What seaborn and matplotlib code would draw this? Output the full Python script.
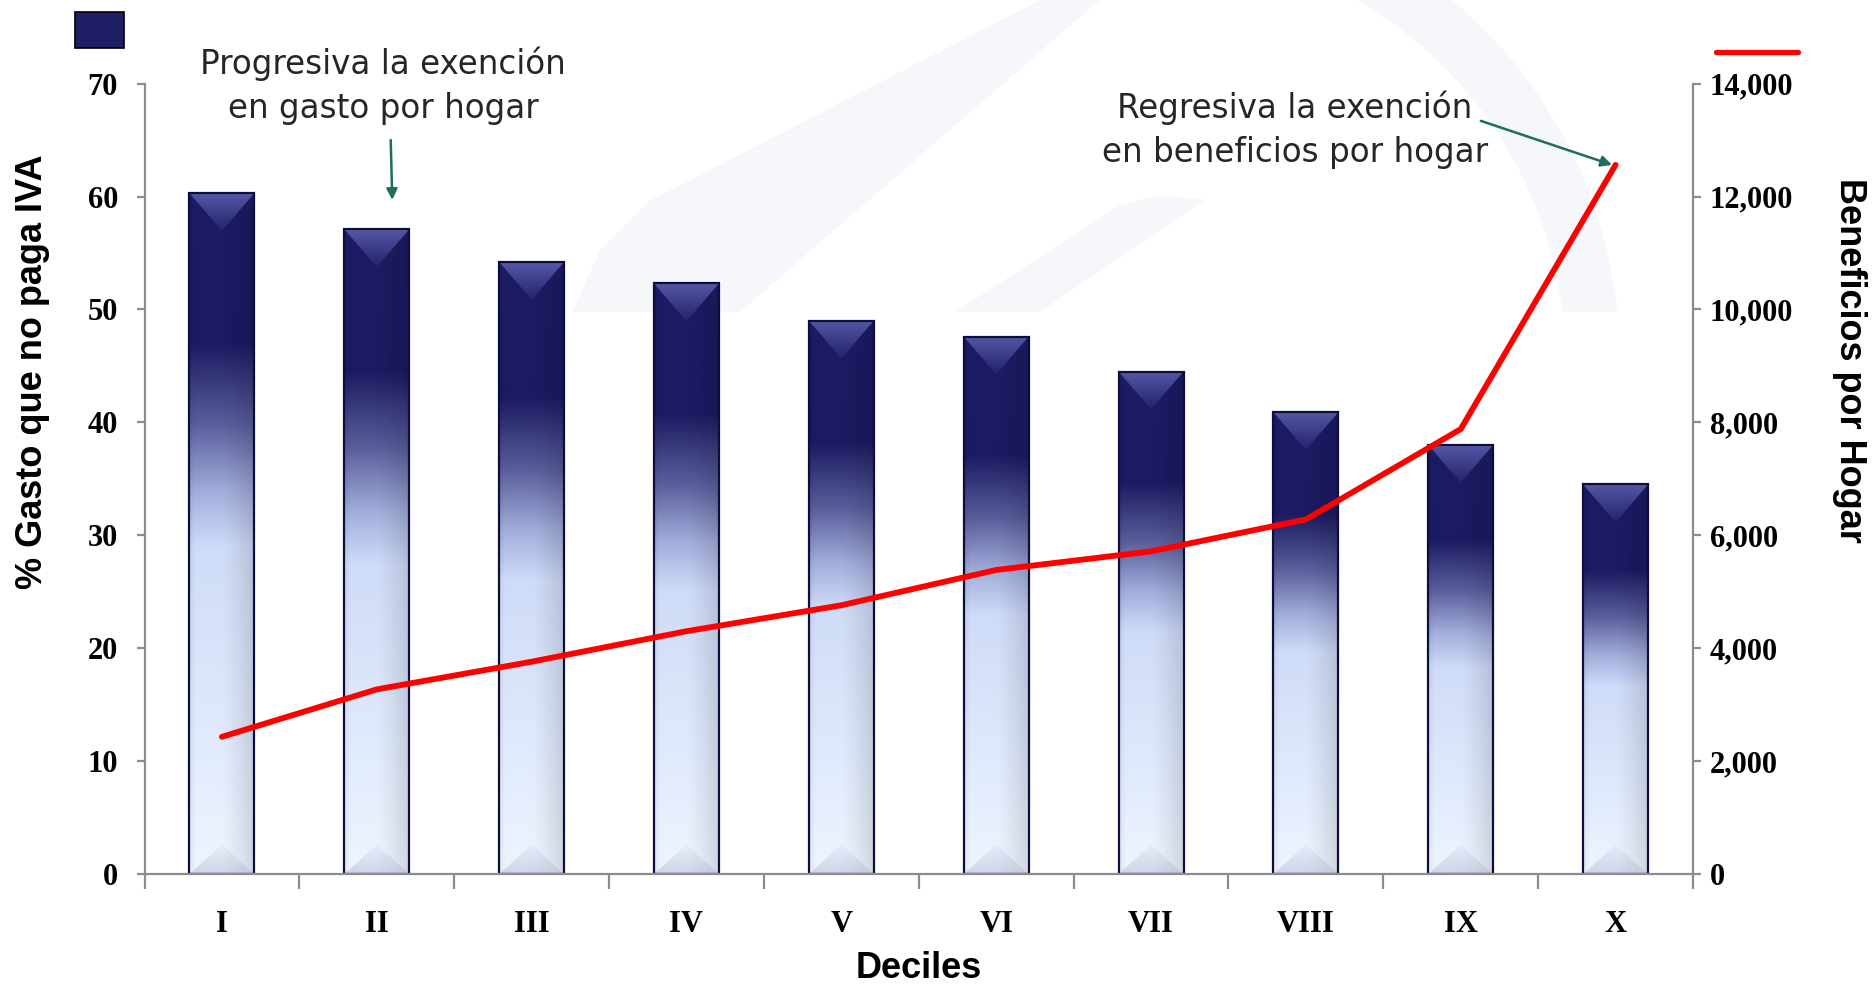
import numpy as np
import pandas as pd
import matplotlib
matplotlib.use("Agg")
import matplotlib.pyplot as plt
import seaborn as sns
from matplotlib.patches import Patch, Polygon, Wedge, Rectangle
from matplotlib.lines import Line2D
from matplotlib.colors import to_rgb

# ---------------- data ----------------
deciles = ["I", "II", "III", "IV", "V", "VI", "VII", "VIII", "IX", "X"]
gasto_pct = [60.3, 57.1, 54.2, 52.3, 49.0, 47.6, 44.5, 40.9, 38.0, 34.5]
beneficios = [2430, 3270, 3760, 4300, 4760, 5385, 5715, 6280, 7880, 12560]
left_ticks = [0, 10, 20, 30, 40, 50, 60, 70]
right_ticks = [0, 2000, 4000, 6000, 8000, 10000, 12000, 14000]
xlabel = "Deciles"
ylabel_left = "% Gasto que no paga IVA"
ylabel_right = "Beneficios por Hogar"
note_left = "Progresiva la exención\nen gasto por hogar"
note_right = "Regresiva la exención\nen beneficios por hogar"

sns.set_theme(style="white")
plt.rcParams['font.family'] = ['DejaVu Sans']

W_PX, H_PX = 1872, 986
fig = plt.figure(figsize=(W_PX / 100, H_PX / 100), dpi=100)
fig.patch.set_facecolor("white")

# ---------- faint background watermark (decorative) ----------
def fy(y):  # top-based pixel -> display pixel
    return H_PX - y

wm_col = "#eef2f6"
clip_rect = Rectangle((0, fy(312)), W_PX, 312, transform=None)
wm_shapes = [
    Wedge((1150, fy(360)), 470, -5, 120, width=55, transform=None),
    Polygon([(572, fy(312)), (600, fy(250)), (650, fy(200)), (700, fy(175)),
             (1040, fy(0)), (1100, fy(0)), (740, fy(312))], closed=True, transform=None),
    Polygon([(955, fy(312)), (1120, fy(205)), (1160, fy(195)), (1205, fy(200)),
             (1040, fy(312))], closed=True, transform=None),
]
for shp in wm_shapes:
    shp.set_facecolor(wm_col)
    shp.set_edgecolor("none")
    shp.set_alpha(0.55)
    shp.set_zorder(-5)
    fig.add_artist(shp)
    shp.set_clip_path(clip_rect)

ax = fig.add_axes([144.5 / W_PX, 1 - 874 / H_PX, (1693 - 144.5) / W_PX, (874 - 83.6) / H_PX])
ax.set_facecolor("none")

df = pd.DataFrame({"Decil": deciles, "Gasto": gasto_pct})
sns.barplot(data=df, x="Decil", y="Gasto", ax=ax, width=0.42, color="#1c1a60",
            saturation=1, edgecolor="#0e0e3c", linewidth=1.6, zorder=2)
bars = list(ax.patches)
ax.set_xlim(-0.5, 9.5)
ax.set_ylim(0, 70)

# ---------- gradient fill of bars ----------
def interp_colors(t, stops):
    pos = [s[0] for s in stops]
    cols = np.array([to_rgb(s[1]) for s in stops])
    return np.stack([np.interp(t, pos, cols[:, k]) for k in range(3)], axis=-1)

GH, GW = 500, 80
tv = np.linspace(0, 1, GH)
vert = interp_colors(tv, [(0, "#1d1b64"), (0.22, "#1c1a62"), (0.34, "#5a5f9c"),
                          (0.44, "#a3afdc"), (0.52, "#cfdcf8"), (1.0, "#eef5ff")])
sh = np.linspace(0, 1, GW)
hfac = 1.0 - 0.13 * np.clip((sh - 0.5) / 0.5, 0, 1) ** 1.2 - 0.06 * np.clip((0.1 - sh) / 0.1, 0, 1)
grad_img = np.clip(vert[:, None, :] * hfac[None, :, None], 0, 1)

fig.canvas.draw()
px_per_unit = ax.bbox.height / 70.0

for p in bars:
    x0, w, h = p.get_x(), p.get_width(), p.get_height()
    im = ax.imshow(grad_img, extent=(x0, x0 + w, 0, h), aspect="auto",
                   origin="upper", zorder=1.5, interpolation="bilinear")
    im.set_clip_path(p)
    p.set_facecolor("none")
    w_px = w * ax.bbox.width / 10.0
    d_top = 0.58 * w_px / px_per_unit
    tri = Polygon([(x0, h), (x0 + w, h), (x0 + w / 2, h - d_top)], closed=True,
                  facecolor="none", edgecolor="none")
    ax.add_patch(tri)
    top_grad = interp_colors(np.linspace(0, 1, 60), [(0, "#5557a6"), (1, "#24236b")])
    tim = ax.imshow(top_grad[:, None, :].repeat(4, axis=1), extent=(x0, x0 + w, h - d_top, h),
                    aspect="auto", origin="upper", zorder=1.6, interpolation="bilinear")
    tim.set_clip_path(tri)
    d_bot = 0.45 * w_px / px_per_unit
    tri2 = Polygon([(x0, 0), (x0 + w, 0), (x0 + w / 2, d_bot)], closed=True,
                   facecolor="none", edgecolor="none")
    ax.add_patch(tri2)
    bot = np.zeros((60, 4, 4))
    bot[..., :3] = to_rgb("#b9bfd6")
    bot[..., 3] = np.linspace(0.1, 0.6, 60)[:, None]
    bim = ax.imshow(bot, extent=(x0, x0 + w, 0, d_bot), aspect="auto",
                    origin="upper", zorder=1.6, interpolation="bilinear")
    bim.set_clip_path(tri2)

ax.set_xlim(-0.5, 9.5)
ax.set_ylim(0, 70)

# ---------- line on secondary axis ----------
ax2 = ax.twinx()
centers = [p.get_x() + p.get_width() / 2 for p in bars]
sns.lineplot(x=centers, y=beneficios, ax=ax2, color="#ff0000", linewidth=4.2,
             sort=False, solid_capstyle="round", solid_joinstyle="round")
ax2.set_ylim(0, 14000)
ax2.set_xlim(-0.5, 9.5)

# ---------- axes styling ----------
spine_c = "#8c8c8c"
for s in ["top", "right"]:
    ax.spines[s].set_visible(False)
for s in ["left", "bottom"]:
    ax.spines[s].set_color(spine_c)
    ax.spines[s].set_linewidth(1.6)
for s in ["top", "left", "bottom"]:
    ax2.spines[s].set_visible(False)
ax2.spines["right"].set_color(spine_c)
ax2.spines["right"].set_linewidth(1.6)
ax2.grid(False)
ax.grid(False)

ax.set_yticks(left_ticks)
ax.set_yticklabels([str(v) for v in left_ticks])
ax2.set_yticks(right_ticks)
ax2.set_yticklabels([f"{v:,}" for v in right_ticks])
ax.set_xticks(range(len(deciles)))
ax.set_xticklabels(deciles)
ax.set_xticks(np.arange(-0.5, len(deciles), 1.0), minor=True)

ax.tick_params(axis="y", which="major", left=True, direction="out", length=6,
               width=1.6, color=spine_c, pad=13)
ax2.tick_params(axis="y", which="major", right=True, direction="out", length=6,
                width=1.6, color=spine_c, pad=6)
ax.tick_params(axis="x", which="major", bottom=True, length=0, pad=26)
ax.tick_params(axis="x", which="minor", bottom=True, direction="out", length=11,
               width=1.6, color=spine_c)

for lbl in ax.get_xticklabels() + ax.get_yticklabels() + ax2.get_yticklabels():
    lbl.set_fontfamily("Liberation Serif")
    lbl.set_fontweight("bold")
    lbl.set_fontsize(22)
    lbl.set_color("black")

lab_font = dict(family="Liberation Sans", weight="bold", size=26, color="black")
ax.set_xlabel(xlabel, **lab_font)
ax.xaxis.set_label_coords(0.5, -0.097)
ax.set_ylabel(ylabel_left, **lab_font)
ax.yaxis.set_label_coords(-0.061, 0.636)
ax2.set_ylabel(ylabel_right, rotation=-90, va="bottom", **lab_font)
ax2.yaxis.set_label_coords(1.090, 0.650)

# ---------- annotations ----------
ax.text(1.04, 69.8, note_left, ha="center", va="center", fontsize=23.5,
        family="DejaVu Sans", linespacing=1.45, clip_on=False, zorder=5)
ax.annotate("", xy=(1.10, 59.7), xytext=(1.09, 65.0),
            arrowprops=dict(arrowstyle="-|>", color="#1e6e5e", lw=1.8,
                            mutation_scale=16, shrinkA=0, shrinkB=0), zorder=5)
ax.text(6.93, 65.9, note_right, ha="center", va="center", fontsize=23.5,
        family="DejaVu Sans", linespacing=1.45, clip_on=False, zorder=5)
ax.annotate("", xy=(8.977, 62.8), xytext=(8.13, 66.7),
            arrowprops=dict(arrowstyle="-|>", color="#1e6e5e", lw=1.8,
                            mutation_scale=16, shrinkA=0, shrinkB=0), zorder=5)

# ---------- legend markers (no text) ----------
fig.legend(handles=[Patch(facecolor="#1f1d63", edgecolor="black", linewidth=1.2)],
           labels=[""], loc="upper left", bbox_to_anchor=(75 / W_PX, 1 - 12 / H_PX),
           frameon=False, fontsize=20, handlelength=1.76, handleheight=1.63,
           borderpad=0, borderaxespad=0, handletextpad=0)
fig.legend(handles=[Line2D([], [], color="#ff0000", lw=3.8)],
           labels=[""], loc="upper left", bbox_to_anchor=(1716 / W_PX, 1 - 41 / H_PX),
           frameon=False, fontsize=20, handlelength=2.95, handleheight=1.0,
           borderpad=0, borderaxespad=0, handletextpad=0)

fig.savefig("out.png", dpi=100, facecolor="white")
